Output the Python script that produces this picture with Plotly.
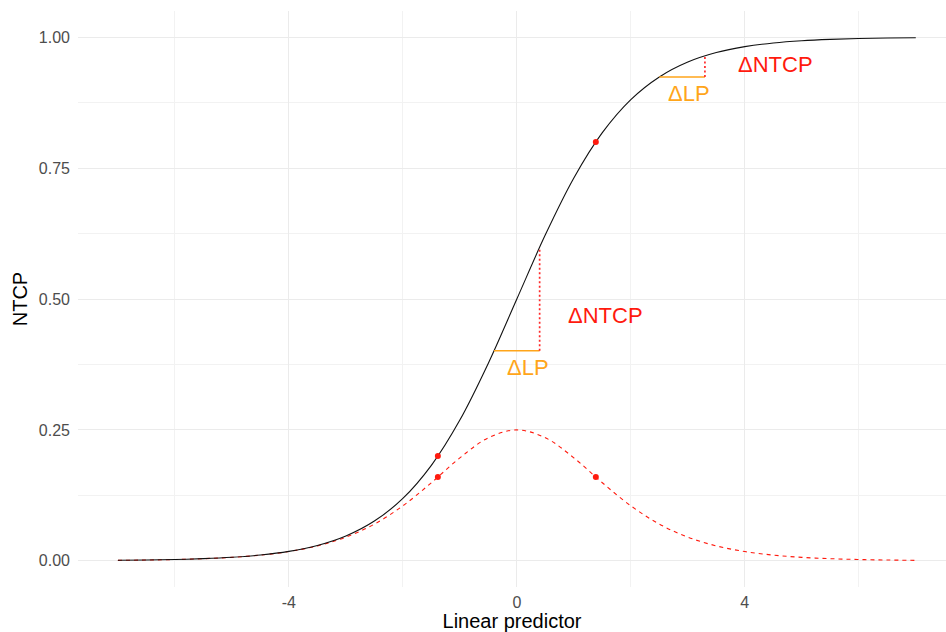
import plotly.graph_objects as go

# Curve values (linear predictor vs NTCP and its slope)
lp = [-7, -6.5, -6, -5.5, -5, -4.5, -4, -3.5, -3, -2.5, -2, -1.5, -1, -0.5, 0,
      0.5, 1, 1.5, 2, 2.5, 3, 3.5, 4, 4.5, 5, 5.5, 6, 6.5, 7]
ntcp = [0.001, 0.0015, 0.0025, 0.0041, 0.0067, 0.011, 0.018, 0.0293, 0.0474, 0.0759,
        0.1192, 0.1824, 0.2689, 0.3775, 0.5,
        0.6225, 0.7311, 0.8176, 0.8808, 0.9241, 0.9526, 0.9707, 0.982, 0.989, 0.9933,
        0.9959, 0.9975, 0.9985, 0.999]
slope = [0.0009, 0.0015, 0.0025, 0.0041, 0.0066, 0.0109, 0.0177, 0.0285, 0.0452, 0.0701,
         0.105, 0.1491, 0.1966, 0.235, 0.25,
         0.235, 0.1966, 0.1491, 0.105, 0.0701, 0.0452, 0.0285, 0.0177, 0.0109, 0.0066,
         0.0041, 0.0025, 0.0015, 0.0009]

# Highlighted points
pt_x = [-1.386, 1.386, -1.386, 1.386]
pt_y = [0.2, 0.8, 0.16, 0.16]

# Delta segments: horizontal (ΔLP) and vertical (ΔNTCP)
dlp_x0 = [-0.4, 2.5]
dlp_x1 = [0.4, 3.3]
dlp_y = [0.401, 0.924]
dntcp_y1 = [0.599, 0.964]

# Labels
lab_text = ["ΔNTCP", "ΔLP", "ΔNTCP", "ΔLP"]
lab_x = [1.56, 0.2, 4.53, 3.02]
lab_y = [0.468, 0.370, 0.948, 0.893]
lab_col = ["#FF1A0E", "#FFA51A", "#FF1A0E", "#FFA51A"]

# Tick labels
x_tickvals = [-4, 0, 4]
x_ticktext = ["-4", "0", "4"]
y_tickvals = [0, 0.25, 0.5, 0.75, 1.0]
y_ticktext = ["0.00", "0.25", "0.50", "0.75", "1.00"]

RED = "#FF1A0E"
ORANGE = "#FFA51A"
FONT = "Liberation Sans, Arial, sans-serif"

fig = go.Figure()
fig.add_trace(go.Scatter(x=lp, y=slope, mode="lines",
                         line=dict(color=RED, width=1.1, dash="4px,4px", shape="spline"),
                         hoverinfo="skip"))
fig.add_trace(go.Scatter(x=lp, y=ntcp, mode="lines",
                         line=dict(color="#111111", width=1.1, shape="spline"),
                         hoverinfo="skip"))
for i in range(len(dlp_x0)):
    fig.add_trace(go.Scatter(x=[dlp_x0[i], dlp_x1[i]], y=[dlp_y[i], dlp_y[i]], mode="lines",
                             line=dict(color=ORANGE, width=1.5)))
    fig.add_trace(go.Scatter(x=[dlp_x1[i], dlp_x1[i]], y=[dlp_y[i], dntcp_y1[i]], mode="lines",
                             line=dict(color="#FF2A2A", width=1.7, dash="2px,2.5px")))
fig.add_trace(go.Scatter(x=pt_x, y=pt_y, mode="markers",
                         marker=dict(color=RED, size=6)))

for t, x, y, c in zip(lab_text, lab_x, lab_y, lab_col):
    fig.add_annotation(x=x, y=y, text=t, showarrow=False,
                       font=dict(color=c, size=22, family=FONT))

fig.update_layout(
    width=946, height=632,
    margin=dict(l=78, r=0, t=11, b=45),
    paper_bgcolor="white", plot_bgcolor="white",
    showlegend=False,
    font=dict(family=FONT, color="#4d4d4d"),
)
fig.update_xaxes(range=[-7.7, 7.53], tickvals=x_tickvals, ticktext=x_ticktext, showgrid=True,
                 gridcolor="#ebebeb", gridwidth=1.2, zeroline=False, showline=False,
                 ticks="", tickfont=dict(size=16, color="#4d4d4d"), ticklabelstandoff=4,
                 minor=dict(tickvals=[-6, -2, 2, 6], showgrid=True, gridcolor="#f2f2f2", gridwidth=0.8),
                 title=dict(text="Linear predictor", font=dict(size=20, color="#000000"), standoff=2))
fig.update_yaxes(range=[-0.05, 1.05], tickvals=y_tickvals, ticktext=y_ticktext, showgrid=True,
                 gridcolor="#ebebeb", gridwidth=1.2, zeroline=False, showline=False,
                 ticks="", tickfont=dict(size=16, color="#4d4d4d"), ticklabelstandoff=7,
                 minor=dict(tickvals=[0.125, 0.375, 0.625, 0.875], showgrid=True,
                            gridcolor="#f2f2f2", gridwidth=0.8),
                 title=dict(text="NTCP", font=dict(size=20, color="#000000"), standoff=5))

fig.write_html("out.html")
